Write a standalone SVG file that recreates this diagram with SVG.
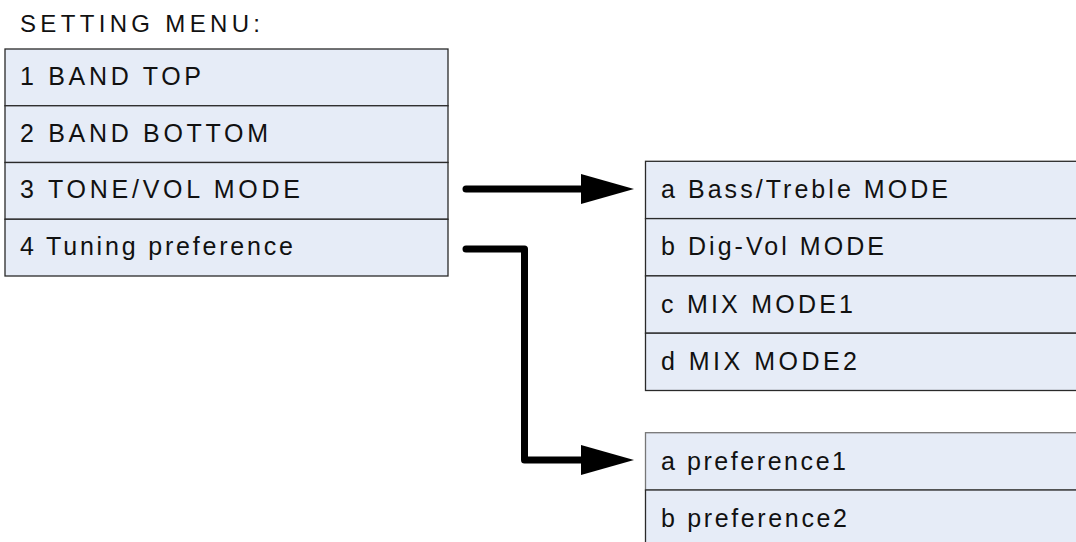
<svg xmlns="http://www.w3.org/2000/svg" width="1076" height="542" viewBox="0 0 1076 542">
<style>
.row{fill:#E6ECF7;stroke:#2a2a2a;stroke-width:1.3}
.t{font-family:"Liberation Sans",Arial,sans-serif;font-size:25px;fill:#111}
.c{fill:none;stroke:#000;stroke-width:7;stroke-linecap:round;stroke-linejoin:round}
</style>
<defs>
<marker id="ah" markerUnits="userSpaceOnUse" markerWidth="54" markerHeight="30" refX="0" refY="15" orient="auto" viewBox="0 0 54 30">
<path d="M0,0 L53,15 L0,30 Z" fill="#000"/>
</marker>
</defs>
<rect width="1076" height="542" fill="#fff"/>
<text class="t" x="20" y="32" style="font-size:24px" textLength="240" lengthAdjust="spacing">SETTING MENU:</text>
<g id="menu">
<rect class="row" x="5" y="49" width="443" height="56.75"/>
<rect class="row" x="5" y="105.75" width="443" height="56.75"/>
<rect class="row" x="5" y="162.5" width="443" height="56.75"/>
<rect class="row" x="5" y="219.25" width="443" height="56.75"/>
<text class="t" x="20" y="85" textLength="181" lengthAdjust="spacing">1 BAND TOP</text>
<text class="t" x="20" y="141.5" textLength="248" lengthAdjust="spacing">2 BAND BOTTOM</text>
<text class="t" x="20" y="197.5" textLength="280" lengthAdjust="spacing">3 TONE/VOL MODE</text>
<text class="t" x="20" y="255" textLength="273" lengthAdjust="spacing">4 Tuning preference</text>
</g>
<g id="tone">
<rect class="row" x="645.5" y="161.3" width="440" height="57.3"/>
<rect class="row" x="645.5" y="218.6" width="440" height="57.3"/>
<rect class="row" x="645.5" y="275.9" width="440" height="57.3"/>
<rect class="row" x="645.5" y="333.2" width="440" height="57.3"/>
<text class="t" x="661" y="198" textLength="287" lengthAdjust="spacing">a Bass/Treble MODE</text>
<text class="t" x="661" y="255" textLength="223" lengthAdjust="spacing">b Dig-Vol MODE</text>
<text class="t" x="661" y="312.5" textLength="192" lengthAdjust="spacing">c MIX MODE1</text>
<text class="t" x="661" y="370" textLength="196" lengthAdjust="spacing">d MIX MODE2</text>
</g>
<g id="pref">
<rect class="row" x="645.5" y="432.7" width="440" height="57.3" style="stroke:#777"/>
<rect class="row" x="645.5" y="490" width="440" height="57.3"/>
<text class="t" x="661" y="470" textLength="185" lengthAdjust="spacing">a preference1</text>
<text class="t" x="661" y="527" textLength="186" lengthAdjust="spacing">b preference2</text>
</g>
<g id="connectors">
<path class="c" d="M466,189 H581" marker-end="url(#ah)"/>
<path class="c" d="M466,249 H524.5 V460 H581" marker-end="url(#ah)"/>
</g>
</svg>
